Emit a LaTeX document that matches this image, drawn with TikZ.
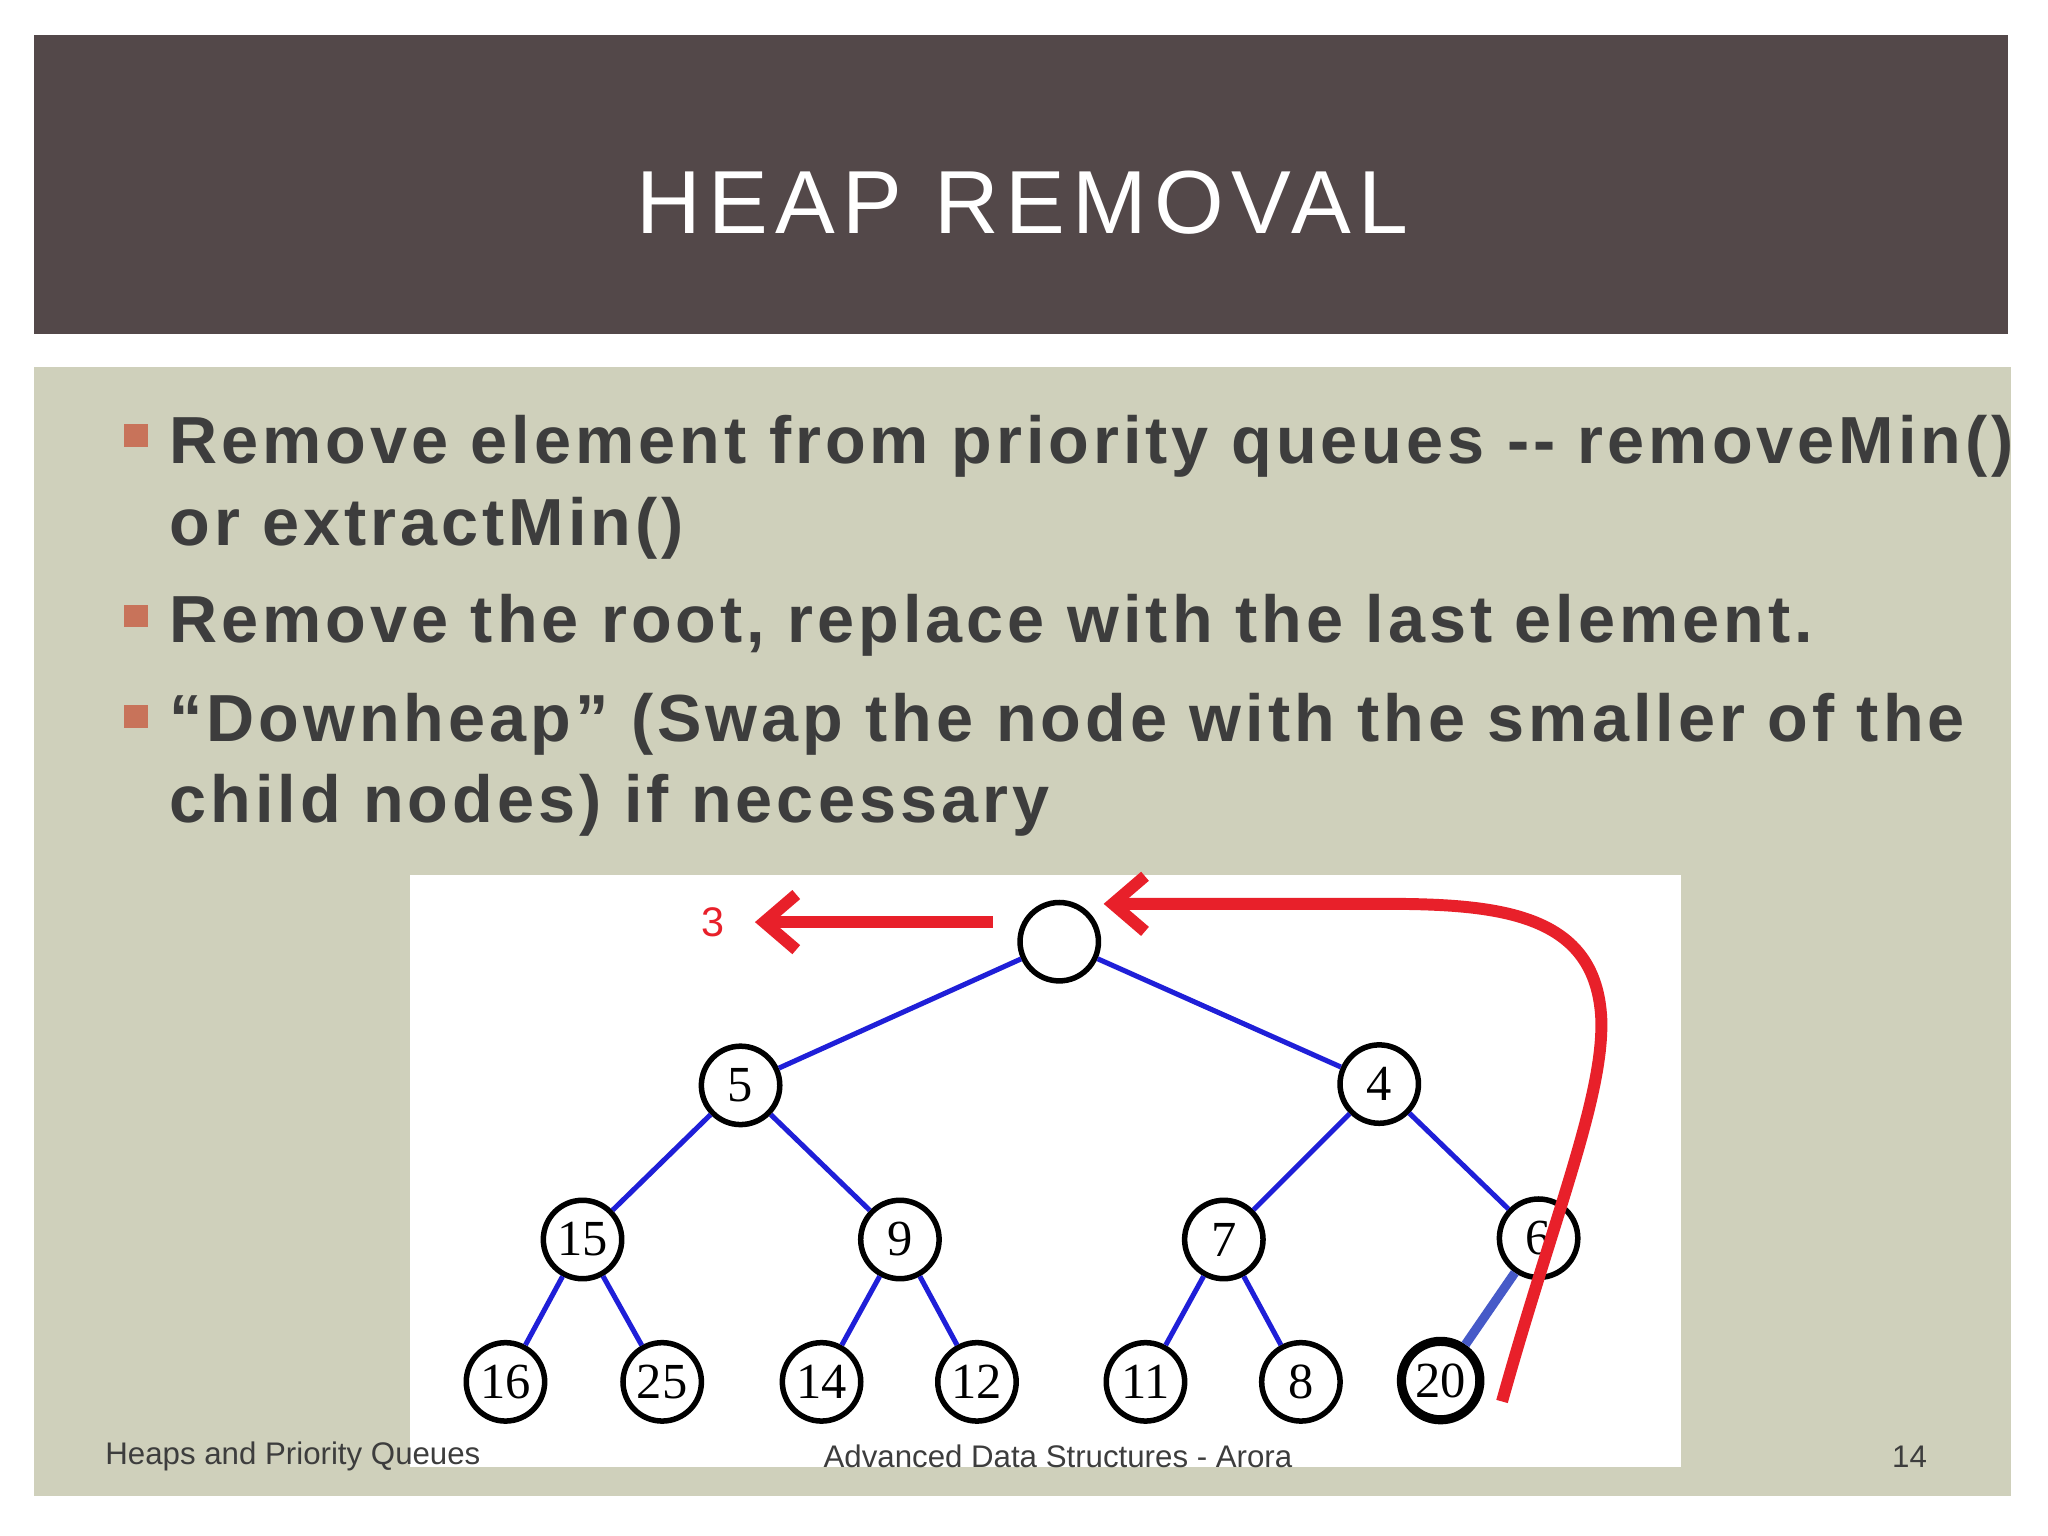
\documentclass[tikz,border=0pt]{standalone}
\usepackage{fontspec}
\setmainfont{Liberation Serif}
\newfontfamily\titlefont[LetterSpace=8]{Liberation Sans}
\newfontfamily\bodyfont[LetterSpace=6]{Liberation Sans}
\newfontfamily\footfont{Liberation Sans}
\usetikzlibrary{arrows.meta}
\definecolor{titlebg}{HTML}{534849}
\definecolor{panel}{HTML}{CFD0BB}
\definecolor{bul}{HTML}{C8735A}
\definecolor{txt}{HTML}{3D3D3D}
\definecolor{myred}{HTML}{E8202A}
\definecolor{edgeb}{HTML}{1F1FD8}
\begin{document}
\begin{tikzpicture}[x=0.01cm,y=-0.01cm,
  hn/.style={circle,draw,line width=1.2pt,fill=white,minimum size=0.6cm,inner sep=0pt,font=\fontsize{11}{12}\selectfont},
  ed/.style={edgeb,line width=1.1pt},
  bl/.style={anchor=base west,text=txt,font=\bodyfont\bfseries\fontsize{14.5}{16}\selectfont,inner sep=0pt},
  bsq/.style={fill=bul,draw=none},
  ft/.style={text=txt,font=\footfont\fontsize{6.8}{8}\selectfont,inner sep=0pt}]
\useasboundingbox (0,0) rectangle (1568,1176);
\fill[white] (0,0) rectangle (1568,1176);
\fill[titlebg] (26,27) rectangle (1537,256);
\node[text=white,font=\titlefont\fontsize{19.5}{22}\selectfont] (title) at (783,155) {HEAP REMOVAL};
\fill[panel] (26,281) rectangle (1540,1145);
\fill[bsq] (95,325) rectangle (113,342);
\fill[bsq] (95,463) rectangle (113,480);
\fill[bsq] (95,540) rectangle (113,557);
\node[bl] (l1) at (129,355) {Remove element from priority queues -- removeMin()};
\node[bl] (l2) at (129,418) {or extractMin()};
\node[bl] (l3) at (129,492) {Remove the root, replace with the last element.};
\node[bl] (l4) at (129,568) {“Downheap” (Swap the node with the smaller of the};
\node[bl] (l5) at (129,630) {child nodes) if necessary};
\fill[white] (314,670) rectangle (1287,1123);
% nodes
\node[hn] (r) at (811,721) {};
\node[hn] (n5) at (567,831) {5};
\node[hn] (n4) at (1056,830) {4};
\node[hn] (n15) at (446,949) {15};
\node[hn] (n9) at (689,949) {9};
\node[hn] (n7) at (937,949) {7};
\node[hn] (n6) at (1178,948) {6};
\node[hn] (n16) at (387,1058) {16};
\node[hn] (n25) at (507,1058) {25};
\node[hn] (n14) at (629,1058) {14};
\node[hn] (n12) at (748,1058) {12};
\node[hn] (n11) at (877,1058) {11};
\node[hn] (n8) at (996,1058) {8};
\node[hn,line width=2pt] (n20) at (1103,1057) {20};
\draw[ed] (r)--(n5); \draw[ed] (r)--(n4);
\draw[ed] (n5)--(n15); \draw[ed] (n5)--(n9);
\draw[ed] (n4)--(n7); \draw[ed] (n4)--(n6);
\draw[ed] (n15)--(n16); \draw[ed] (n15)--(n25);
\draw[ed] (n9)--(n14); \draw[ed] (n9)--(n12);
\draw[ed] (n7)--(n11); \draw[ed] (n7)--(n8);
\draw[color={rgb,255:red,70;green,90;blue,200},line width=2pt] (n6)--(n20);
% red arrows
\coordinate (a1) at (760,706);
\node[text=myred,font=\footfont\fontsize{9}{10}\selectfont] (three) at (546,706) {3};
\draw[myred,line width=2.6pt,-{Straight Barb[length=7pt,width=12pt]}] (a1) -- (578,706);
\coordinate (c0) at (1150,1073);
\draw[myred,line width=2.6pt,-{Straight Barb[length=7pt,width=12pt]}] (c0) .. controls (1190,930) and (1228,840) .. (1226,780)
  .. controls (1222,700) and (1150,692) .. (1060,692) -- (845,692);
\node[ft,anchor=west] (f1) at (80,1115) {Heaps and Priority Queues};
\node[ft] (f2) at (810,1115) {Advanced Data Structures - Arora};
\node[ft] (f3) at (1462,1115) {14};
\end{tikzpicture}
\end{document}
